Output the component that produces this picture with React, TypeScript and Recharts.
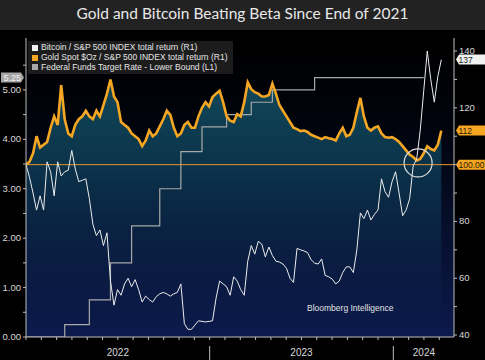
import React from "react";
import {
  Area,
  CartesianGrid,
  ComposedChart,
  Line,
  ReferenceDot,
  ReferenceLine,
  XAxis,
  YAxis,
} from "recharts";

// weekly points from the first week of 2022, rebased to 100
const gold = [
  100, 101, 104, 110, 106, 107, 108, 113, 117, 114,
  128, 116, 111, 110, 114, 116, 117, 119, 117, 116,
  119, 117, 121, 125, 130, 124, 122, 115, 114, 113,
  111, 110, 109, 106.5, 108.5, 112, 110, 111, 113.5, 116,
  119, 117.5, 113, 110, 111, 114, 115, 113, 113, 117,
  120, 122, 120.5, 123.8, 125, 126, 122, 117, 115.5, 115,
  117.8, 117, 122, 129, 126.6, 125.5, 125, 124, 124, 124.5,
  128.5, 125, 121, 119, 117, 115, 113, 112.5, 111.8, 112,
  111.5, 110.5, 110, 109.5, 109, 109.7, 109.3, 109, 108.5, 111,
  113, 110, 110.5, 113, 118.5, 123.5, 117, 113, 112, 113,
  113.5, 111, 109.7, 109.5, 109.7, 109, 108, 106.5, 105, 103.5,
  102.7, 101.5, 102, 104, 106.5, 105.5, 105, 107, 112,
];

const bitcoin = [
  100, 95.5, 90, 84, 89, 84, 101, 97.5, 89, 101,
  96, 97.5, 98, 105, 98.5, 94, 94.5, 95, 88, 79,
  75, 77, 71.5, 76, 59, 50.5, 56, 54, 58, 60,
  57, 59.5, 56, 51.6, 53.7, 52.5, 51.6, 53.5, 54.5, 55,
  54.5, 53.7, 54.5, 55, 58, 44, 42, 42, 43.5, 45,
  44.8, 44.6, 44.8, 45, 53, 59, 58, 57, 54, 60.5,
  59, 56, 54, 66, 71.5, 68.5, 73, 72, 67.5, 71,
  68, 66, 65.7, 65, 63.5, 60, 58.5, 70.5, 70, 69.6,
  69, 66.5, 65.3, 65, 66.8, 61, 60.5, 59.7, 58, 59,
  62, 64, 64, 62, 70, 83, 81, 84, 80.5, 82.5,
  84, 95, 90.5, 88.5, 94, 97.5, 90, 82, 84, 88,
  99.5, 102, 112, 126, 140, 130, 122, 131, 137,
];

// fed funds lower bound: week of each change and new rate
const fedStartWeek = [0, 11, 18, 24, 30, 38, 44, 50, 57, 64, 70, 82];
const fedRate = [0, 0.25, 0.75, 1.5, 2.25, 3, 3.75, 4.25, 4.5, 4.75, 5, 5.25];
const fedLastWeek = 113;

const years = ["2022", "2023", "2024"];
const leftTicks = [0, 0.5, 1, 1.5, 2, 2.5, 3, 3.5, 4, 4.5, 5, 5.5];
const rightTicks = [40, 50, 60, 70, 80, 90, 100, 110, 120, 130, 140];
const BASE = 100;

const WEEKS_PER_MONTH = 52.18 / 12;
const monthTicks = Array.from({ length: 28 }, (_, m) => m * WEEKS_PER_MONTH);
const yearLabelMonth = [6, 18, 26];

const data = gold.map((g, i) => {
  let fed: number | undefined = undefined;
  if (i <= fedLastWeek) {
    fedStartWeek.forEach((w, k) => {
      if (w <= i) fed = fedRate[k];
    });
  }
  return { week: i, gold: g, btc: bitcoin[i], fed };
});

const ORANGE = "#f5a623";
const FONT = "'Liberation Sans', Arial, sans-serif";

const legendItems = [
  { name: "Bitcoin / S&P 500 INDEX total return (R1)", color: "#f2f2f2" },
  { name: "Gold Spot $Oz / S&P 500 INDEX total return (R1)", color: ORANGE },
  { name: "Federal Funds Target Rate - Lower Bound  (L1)", color: "#a8a8a8" },
];

function LegendBox() {
  return (
    <div
      style={{
        position: "absolute",
        left: 28,
        top: 41,
        background: "#1c1c1c",
        padding: "2px 6px 2px 4px",
        fontFamily: FONT,
        fontSize: 8.5,
        lineHeight: "9.8px",
        color: "#e6e6e6",
        whiteSpace: "nowrap",
      }}
    >
      {legendItems.map((it) => (
        <div key={it.name} style={{ display: "flex", alignItems: "center" }}>
          <span
            style={{
              display: "inline-block",
              width: 6,
              height: 6,
              background: it.color,
              marginRight: 3,
            }}
          />
          {it.name}
        </div>
      ))}
    </div>
  );
}

function rightTag(text: string, bg: string, fg: string) {
  return (props: any) => {
    const vb = props.viewBox || {};
    const x0 = vb.x + vb.width + 2;
    const y = vb.y;
    return (
      <g>
        <polygon
          points={`${x0},${y} ${x0 + 3},${y - 5} ${485},${y - 5} ${485},${y + 5} ${x0 + 3},${y + 5}`}
          fill={bg}
        />
        <text x={x0 + 2.5} y={y + 3.3} fontSize={8.5} fontFamily={FONT} fill={fg}>
          {text}
        </text>
      </g>
    );
  };
}

function leftTag(text: string, bg: string, fg: string) {
  return (props: any) => {
    const vb = props.viewBox || {};
    const x1 = vb.x - 2;
    const y = vb.y;
    return (
      <g>
        <polygon
          points={`1,${y - 5} ${x1 - 3},${y - 5} ${x1},${y} ${x1 - 3},${y + 5} 1,${y + 5}`}
          fill={bg}
        />
        <text x={x1 - 3} y={y + 3.3} fontSize={9} fontFamily={FONT} fill={fg} textAnchor="end">
          {text}
        </text>
      </g>
    );
  };
}

const LeftTick = (props: any) => {
  const { x, y, payload } = props;
  if (!Number.isInteger(payload.value)) return null;
  return (
    <text x={x} y={y + 3} fontSize={9.5} fontFamily={FONT} fill="#d8d8d8" textAnchor="end">
      {payload.value.toFixed(2)}
    </text>
  );
};

// the base value's label is covered by its own tag
const RightTick = (props: any) => {
  const { x, y, payload } = props;
  if (payload.value % 20 !== 0 || payload.value === BASE) return null;
  return (
    <text x={x} y={y + 3} fontSize={9.5} fontFamily={FONT} fill="#d8d8d8" textAnchor="start">
      {payload.value}
    </text>
  );
};

const MonthTick = (props: any) => {
  const { x, y, payload } = props;
  const m = Math.round(payload.value / WEEKS_PER_MONTH);
  const li = yearLabelMonth.indexOf(m);
  return (
    <g>
      {m > 0 && m % 12 === 0 && (
        <line x1={x} x2={x} y1={y + 4} y2={y + 20} stroke="#bdbdbd" strokeWidth={1} />
      )}
      {li >= 0 && (
        <text x={x} y={y + 14} fontSize={10} fontFamily={FONT} fill="#d8d8d8" textAnchor="middle">
          {years[li]}
        </text>
      )}
    </g>
  );
};

export default function App() {
  const lastGold = gold[gold.length - 1];
  const lastBtc = bitcoin[bitcoin.length - 1];
  const lastFed = fedRate[fedRate.length - 1];

  return (
    <div
      style={{
        position: "absolute",
        top: 0,
        left: 0,
        width: 485,
        height: 360,
        background: "#000",
        overflow: "hidden",
      }}
    >
      <div
        style={{
          position: "absolute",
          top: 0,
          left: 0,
          width: 485,
          height: 30,
          background: "#222",
          color: "#e8e8e8",
          fontFamily: "Lato, 'Open Sans', sans-serif",
          fontSize: 15.5,
          lineHeight: "26px",
          textAlign: "center",
        }}
      >
        Gold and Bitcoin Beating Beta Since End of 2021
      </div>
      <div style={{ position: "absolute", top: 0, left: 0 }}>
        <ComposedChart
          width={485}
          height={360}
          data={data}
          margin={{ top: 38, right: 0, bottom: 0, left: 0 }}
        >
          <defs>
            <linearGradient id="plotBg" x1="0" y1="0" x2="0" y2="1">
              <stop offset="0%" stopColor="#000000" />
              <stop offset="30%" stopColor="#01040d" />
              <stop offset="100%" stopColor="#0c1a4c" />
            </linearGradient>
            <linearGradient id="goldFill" x1="0" y1="0" x2="0" y2="1">
              <stop offset="0%" stopColor="#1d7893" stopOpacity={1} />
              <stop offset="35%" stopColor="#11526f" stopOpacity={0.95} />
              <stop offset="100%" stopColor="#0c1a4c" stopOpacity={0.2} />
            </linearGradient>
          </defs>
          <CartesianGrid
            yAxisId="left"
            horizontal={false}
            vertical={false}
            fill="url(#plotBg)"
            stroke="none"
          />
          <XAxis
            dataKey="week"
            type="number"
            domain={[0, 121.6]}
            allowDataOverflow
            ticks={monthTicks}
            interval={0}
            height={23}
            tickSize={3}
            stroke="#bdbdbd"
            tick={<MonthTick />}
          />
          <YAxis
            yAxisId="left"
            orientation="left"
            type="number"
            domain={[0, 6.05]}
            allowDataOverflow
            ticks={leftTicks}
            interval={0}
            width={26}
            tickSize={3}
            stroke="#bdbdbd"
            tick={<LeftTick />}
          />
          <YAxis
            yAxisId="right"
            orientation="right"
            type="number"
            domain={[39.3, 144.6]}
            allowDataOverflow
            ticks={rightTicks}
            interval={0}
            width={31}
            tickSize={3}
            stroke="#bdbdbd"
            tick={<RightTick />}
          />
          <Area
            yAxisId="right"
            dataKey="gold"
            type="linear"
            stroke="none"
            fill="url(#goldFill)"
            isAnimationActive={false}
            activeDot={false}
          />
          <Line
            yAxisId="left"
            dataKey="fed"
            type="stepAfter"
            stroke="#a8a8a8"
            strokeWidth={1.2}
            dot={false}
            activeDot={false}
            isAnimationActive={false}
          />
          <ReferenceLine
            yAxisId="right"
            y={BASE}
            stroke="#e8952a"
            strokeWidth={1}
            label={rightTag(BASE.toFixed(2), ORANGE, "#2a1800")}
          />
          <Line
            yAxisId="right"
            dataKey="gold"
            type="linear"
            stroke={ORANGE}
            strokeWidth={2.6}
            dot={false}
            activeDot={false}
            isAnimationActive={false}
          />
          <Line
            yAxisId="right"
            dataKey="btc"
            type="linear"
            stroke="#ececec"
            strokeWidth={1}
            dot={false}
            activeDot={false}
            isAnimationActive={false}
          />
          <ReferenceDot
            yAxisId="right"
            x={111.4}
            y={100.6}
            r={14}
            fill="none"
            stroke="#dddddd"
            strokeWidth={1.2}
          />
          <ReferenceLine
            yAxisId="right"
            y={lastBtc}
            stroke="none"
            label={rightTag(String(lastBtc), "#f2f2f2", "#222")}
          />
          <ReferenceLine
            yAxisId="right"
            y={lastGold}
            stroke="none"
            label={rightTag(String(lastGold), ORANGE, "#2a1800")}
          />
          <ReferenceLine
            yAxisId="left"
            y={lastFed}
            stroke="none"
            label={leftTag(lastFed.toFixed(2), "#a6a6a6", "#f4f4f4")}
          />
        </ComposedChart>
      </div>
      <LegendBox />
      <div
        style={{
          position: "absolute",
          left: 307,
          top: 303,
          fontFamily: FONT,
          fontSize: 8.5,
          color: "#e2e2e2",
        }}
      >
        Bloomberg Intelligence
      </div>
    </div>
  );
}
